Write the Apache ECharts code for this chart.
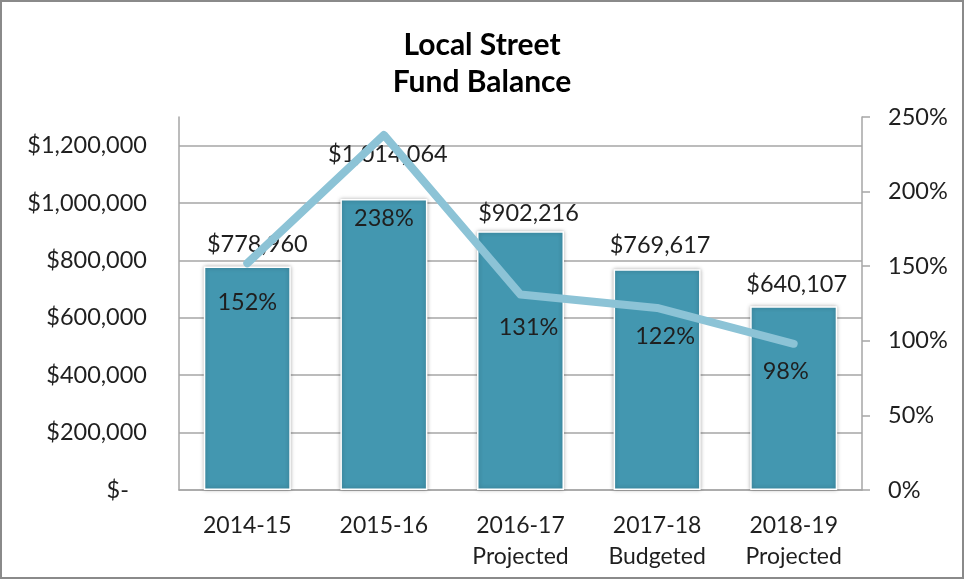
<!DOCTYPE html>
<html>
<head>
<meta charset="utf-8">
<script src="https://cdn.jsdelivr.net/npm/echarts@6/dist/echarts.min.js"></script>
<style>
  html, body { margin: 0; padding: 0; background: #fff; }
  #chart { width: 964px; height: 579px; }
  #frame {
    position: absolute; left: 0; top: 0; width: 964px; height: 579px;
    box-sizing: border-box; border: 2px solid #8a8a8a; pointer-events: none;
  }
</style>
</head>
<body>
<div id="chart"></div>
<div id="frame"></div>
<script>
// data
const years = ['2014-15', '2015-16', '2016-17\nProjected', '2017-18\nBudgeted', '2018-19\nProjected']
const balances = [778960, 1014064, 902216, 769617, 640107]
const ratios = [152, 238, 131, 122, 98]

// label nudges (the labels were moved by hand in the original)
const balanceLabelShift = [[10, 0], [4, -23], [8, 4], [3, -2], [3, 0]]
const ratioLabelShift = [[0, 39], [0, 84], [8, 33], [8, 28], [-8, 28]]

const font = 'Lato'
const ink = '#1f1f1f'
const gray = '#a6a6a6'

const money = v => v === 0 ? '$-   ' : '$' + v.toLocaleString('en-US')

const chart = echarts.init(document.getElementById('chart'))
chart.setOption({
  animation: false,
  textStyle: { fontFamily: font },
  title: {
    text: 'Local Street\nFund Balance',
    left: 'center',
    top: 22,
    textStyle: { fontFamily: font, fontWeight: 'bold', fontSize: 30, lineHeight: 37, color: '#000' }
  },
  grid: { left: 179, right: 102, top: 117, bottom: 89, containLabel: false },
  xAxis: {
    type: 'category',
    data: years,
    axisLine: { lineStyle: { color: gray, width: 1.5 } },
    axisTick: { show: false },
    axisLabel: { fontSize: 23, lineHeight: 31, margin: 20, color: ink, fontFamily: font }
  },
  yAxis: [
    {
      type: 'value',
      min: 0,
      max: 1300000,
      interval: 200000,
      axisLine: { show: true, lineStyle: { color: gray, width: 1.5 } },
      axisTick: { show: false },
      axisLabel: { showMaxLabel: false, formatter: money, fontSize: 23.5, margin: 32, color: ink, fontFamily: font },
      splitLine: { show: true, showMaxLine: false, lineStyle: { color: gray, width: 1.5 } }
    },
    {
      type: 'value',
      min: 0,
      max: 250,
      interval: 50,
      position: 'right',
      axisLine: { show: true, lineStyle: { color: gray, width: 1.5 } },
      axisTick: { show: true, inside: false, length: 8, lineStyle: { color: gray, width: 1.5 } },
      axisLabel: { formatter: '{value}%', fontSize: 23.5, margin: 26, color: ink, fontFamily: font },
      splitLine: { show: false }
    }
  ],
  series: [
    {
      name: 'Fund Balance',
      type: 'bar',
      barWidth: 87,
      data: balances.map((v, i) => ({
        value: v,
        label: { offset: balanceLabelShift[i] }
      })),
      itemStyle: {
        color: '#4397b0',
        borderColor: '#ffffff',
        borderWidth: 1.5,
        shadowBlur: 4,
        shadowColor: 'rgba(0,0,0,0.3)'
      },
      label: {
        show: true,
        position: 'top',
        distance: 10,
        formatter: p => money(p.value),
        fontSize: 23.5,
        color: ink,
        fontFamily: font
      }
    },
    {
      name: 'Ratio',
      type: 'line',
      yAxisIndex: 1,
      data: ratios.map((v, i) => ({
        value: v,
        label: { offset: ratioLabelShift[i] }
      })),
      symbol: 'circle',
      symbolSize: 0.1,
      showSymbol: true,
      lineStyle: { color: '#8cc3d6', width: 8, cap: 'round', join: 'round' },
      itemStyle: { color: '#8cc3d6' },
      label: {
        show: true,
        position: 'inside',
        formatter: '{c}%',
        fontSize: 23.5,
        color: ink,
        fontFamily: font
      }
    }
  ]
})
</script>
</body>
</html>
